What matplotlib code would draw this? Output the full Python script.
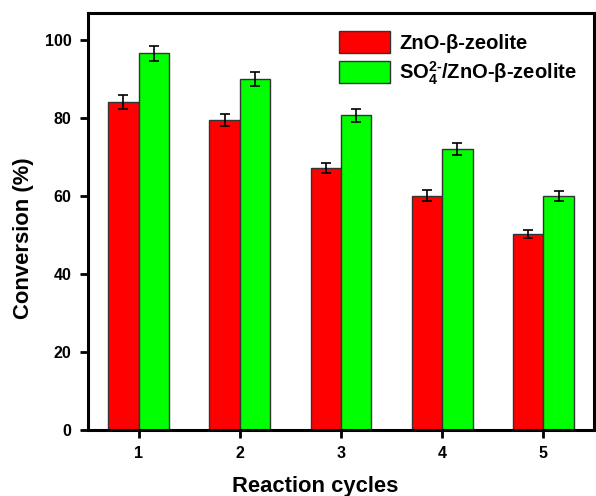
import matplotlib
matplotlib.use("Agg")
import matplotlib.pyplot as plt
import numpy as np

plt.rcParams['font.family'] = ['Liberation Sans', 'DejaVu Sans']
plt.rcParams['font.weight'] = 'bold'
plt.rcParams['mathtext.fontset'] = 'custom'
plt.rcParams['mathtext.rm'] = 'Liberation Sans:bold'
plt.rcParams['mathtext.it'] = 'Liberation Sans:bold'
plt.rcParams['mathtext.bf'] = 'Liberation Sans:bold'

cycles = ["1", "2", "3", "4", "5"]
znO_vals = [84.0, 79.3, 67.1, 60.0, 50.1]
znO_err = [1.7, 1.5, 1.3, 1.3, 1.1]
so4_vals = [96.5, 89.8, 80.6, 72.0, 59.9]
so4_err = [1.9, 1.8, 1.7, 1.5, 1.3]
labels = ["ZnO-β-zeolite", r"SO$_4^{2\text{-}}$/ZnO-β-zeolite"]
yticks = [0, 20, 40, 60, 80, 100]

fig = plt.figure(figsize=(5.96, 4.96), dpi=100)
ax = fig.add_axes([88/596, 1-429.5/496, (594-88)/596, (429.5-13)/496])

x = np.arange(1, len(cycles) + 1)
w = 0.3
ekw = dict(ecolor='black', elinewidth=1.2, capsize=3.8, capthick=1.2)
ax.bar(x - w/2, znO_vals, w, yerr=znO_err, color='#ff0000', edgecolor='#333333',
       linewidth=1.0, error_kw=ekw, label=labels[0])
ax.bar(x + w/2, so4_vals, w, yerr=so4_err, color='#00ff00', edgecolor='#333333',
       linewidth=1.0, error_kw=ekw, label=labels[1])

ax.set_xlim(0.5, 5.5)
ax.set_ylim(0, 106.8)
ax.set_xticks(x)
ax.set_xticklabels(cycles)
ax.set_yticks(yticks)
for s in ax.spines.values():
    s.set_linewidth(2.2)
ax.tick_params(axis='both', direction='out', length=6, width=2, labelsize=11.5, pad=6)
for lab in ax.get_xticklabels() + ax.get_yticklabels():
    lab.set_fontweight('bold')

ax.set_xlabel("Reaction cycles", fontsize=15.8, fontweight='bold')
ax.set_ylabel("Conversion (%)", fontsize=15.8, fontweight='bold')
ax.xaxis.set_label_coords((315 - 88) / 506, (429.5 - 476) / 416.5)
ax.yaxis.set_label_coords((34 - 88) / 506, (429.5 - 238) / 416.5)

leg = ax.legend(loc='upper left', bbox_to_anchor=(0.48, 0.975), frameon=False,
                prop={'size': 14.5, 'weight': 'bold'}, handlelength=2.55,
                handleheight=1.3, handletextpad=0.45, labelspacing=0.3,
                borderaxespad=0)

fig.savefig("out.png", dpi=100)
